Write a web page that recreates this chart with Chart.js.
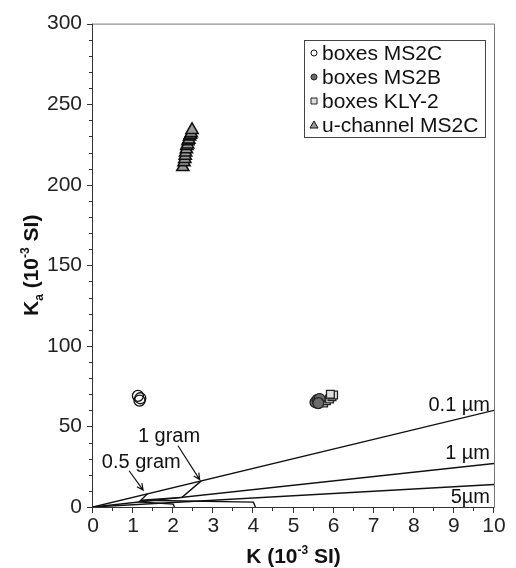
<!DOCTYPE html>
<html>
<head>
<meta charset="utf-8">
<script src="https://cdn.jsdelivr.net/npm/chart.js@4.4.0/dist/chart.umd.min.js"></script>
<style>
html, body { margin: 0; padding: 0; background: #fff; }
</style>
</head>
<body>
<canvas id="myChart" width="516" height="568"></canvas>
<script>
// measured points (K, Ka in 10^-3 SI)
var ms2cK = [1.12, 1.16, 1.18]
var ms2cKa = [69, 66, 67.5]

var ms2bK = [5.55, 5.6, 5.65, 5.62]
var ms2bKa = [65, 66.5, 67, 64.5]

var klyK = [5.75, 5.82, 5.9, 5.96, 6.0, 5.92]
var klyKa = [64.5, 66, 67, 68.5, 69.5, 70]

var uchK = [2.24, 2.27, 2.29, 2.3, 2.31, 2.33, 2.34, 2.36, 2.37, 2.39, 2.41, 2.43, 2.45, 2.47]
var uchKa = [211, 214, 216, 218, 220, 222, 224, 225, 227, 228, 230, 231, 232, 234]

// model lines: grain size
var sizeNames = ['0.1 µm', '1 µm', '5µm']
var sizeK = [[0, 10], [0, 10], [0, 10]]
var sizeKa = [[0, 60], [0, 27], [0, 14]]

// model lines: mass
var g05K = [1.36, 1.15, 2.0, 2.03]
var g05Ka = [8.2, 3.2, 1.8, 0]
var g1K = [2.7, 2.22, 1.2, 4.0, 4.05]
var g1Ka = [16.2, 6.0, 4.2, 3.0, 0]

function pts(xs, ys) {
	return xs.map(function(x, i) { return { x: x, y: ys[i] } })
}

var datasets = []
sizeNames.forEach(function(n, i) {
	datasets.push({ type: 'line', label: n, data: pts(sizeK[i], sizeKa[i]), borderColor: '#111', borderWidth: 1.4, pointRadius: 0, showLine: true, inLegend: false })
})
datasets.push({ type: 'line', label: '0.5 gram', data: pts(g05K, g05Ka), borderColor: '#111', borderWidth: 1.4, pointRadius: 0, showLine: true, inLegend: false })
datasets.push({ type: 'line', label: '1 gram', data: pts(g1K, g1Ka), borderColor: '#111', borderWidth: 1.4, pointRadius: 0, showLine: true, inLegend: false })

datasets.push({ label: 'boxes MS2C', data: pts(ms2cK, ms2cKa), pointStyle: 'circle', pointRadius: 5.5, backgroundColor: 'rgba(255,255,255,0)', borderColor: '#111', borderWidth: 1.3, inLegend: true })
datasets.push({ label: 'boxes MS2B', data: pts(ms2bK, ms2bKa), pointStyle: 'circle', pointRadius: 5.5, backgroundColor: '#6a6a6a', borderColor: '#222', borderWidth: 1.3, inLegend: true })
datasets.push({ label: 'boxes KLY-2', data: pts(klyK, klyKa), pointStyle: 'rect', pointRadius: 5.5, backgroundColor: '#dedede', borderColor: '#222', borderWidth: 1.3, inLegend: true })
datasets.push({ label: 'u-channel MS2C', data: pts(uchK, uchKa), pointStyle: 'triangle', pointRadius: 7, backgroundColor: '#9a9a9a', borderColor: '#111', borderWidth: 1.6, inLegend: true })

// text on the plot, in data units
var notes = [
	{ t: '0.1 µm', x: 9.9, y: 59.5, align: 'right' },
	{ t: '1 µm', x: 9.9, y: 30, align: 'right' },
	{ t: '5µm', x: 9.9, y: 2.5, align: 'right' },
	{ t: '1 gram', x: 1.12, y: 40.5, align: 'left' },
	{ t: '0.5 gram', x: 0.22, y: 24.5, align: 'left' }
]
var arrows = [
	{ x0: 2.12, y0: 38, x1: 2.66, y1: 17 },
	{ x0: 0.9, y0: 22.5, x1: 1.25, y1: 10.5 }
]

var FONT = "'Liberation Sans', Arial, sans-serif"

var extras = {
	id: 'extras',
	afterDraw: function(chart) {
		var c = chart.ctx, xs = chart.scales.x, ys = chart.scales.y, a = chart.chartArea
		c.save()

		// frame
		c.strokeStyle = '#777'
		c.lineWidth = 1
		c.beginPath()
		c.moveTo(a.left, a.top + 0.5); c.lineTo(a.right + 0.5, a.top + 0.5); c.lineTo(a.right + 0.5, a.bottom)
		c.stroke()
		c.strokeStyle = '#333'
		c.beginPath()
		c.moveTo(a.left - 0.5, a.top); c.lineTo(a.left - 0.5, a.bottom + 0.5); c.lineTo(a.right + 0.5, a.bottom + 0.5)
		c.stroke()

		// ticks
		c.beginPath()
		for (var v = 0; v <= 300; v += 10) {
			var py = Math.round(ys.getPixelForValue(v)) + 0.5
			var l = v % 50 == 0 ? 6 : 4
			c.moveTo(a.left - l, py); c.lineTo(a.left, py)
		}
		for (var k = 0; k <= 20; k++) {
			var px = Math.round(xs.getPixelForValue(k / 2)) - 0.5
			var l2 = k % 2 == 0 ? 6 : 4
			c.moveTo(px, a.bottom); c.lineTo(px, a.bottom + l2)
		}
		c.stroke()

		// notes
		c.fillStyle = '#111'
		c.font = '20px ' + FONT
		c.textBaseline = 'alphabetic'
		notes.forEach(function(n) {
			c.textAlign = n.align
			c.fillText(n.t, xs.getPixelForValue(n.x), ys.getPixelForValue(n.y))
		})

		// arrows
		c.strokeStyle = '#111'
		c.lineWidth = 1.2
		arrows.forEach(function(r) {
			var x0 = xs.getPixelForValue(r.x0), y0 = ys.getPixelForValue(r.y0)
			var x1 = xs.getPixelForValue(r.x1), y1 = ys.getPixelForValue(r.y1)
			var ang = Math.atan2(y1 - y0, x1 - x0)
			c.beginPath()
			c.moveTo(x0, y0); c.lineTo(x1, y1)
			c.moveTo(x1 - 7 * Math.cos(ang - 0.45), y1 - 7 * Math.sin(ang - 0.45))
			c.lineTo(x1, y1)
			c.lineTo(x1 - 7 * Math.cos(ang + 0.45), y1 - 7 * Math.sin(ang + 0.45))
			c.stroke()
		})

		// legend
		var lx = 304, ly = 40, lw = 181, lh = 97
		c.fillStyle = '#fff'
		c.fillRect(lx, ly, lw, lh)
		c.strokeStyle = '#444'
		c.lineWidth = 1
		c.strokeRect(lx + 0.5, ly + 0.5, lw, lh)
		c.font = '21px ' + FONT
		c.textAlign = 'left'
		c.textBaseline = 'middle'
		var row = 0
		chart.data.datasets.forEach(function(d) {
			if (!d.inLegend) return
			var cy = ly + 13 + row * 24
			c.lineWidth = 1
			c.fillStyle = d.backgroundColor
			c.strokeStyle = d.borderColor
			c.beginPath()
			if (d.pointStyle == 'circle') {
				c.arc(lx + 10, cy, 3, 0, Math.PI * 2)
			} else if (d.pointStyle == 'rect') {
				c.rect(lx + 7, cy - 3, 6, 6)
			} else {
				c.moveTo(lx + 10, cy - 4); c.lineTo(lx + 14, cy + 3); c.lineTo(lx + 6, cy + 3); c.closePath()
			}
			c.fill(); c.stroke()
			c.fillStyle = '#111'
			c.fillText(d.label, lx + 18, cy + 1)
			row++
		})

		// axis titles
		c.fillStyle = '#111'
		c.textBaseline = 'alphabetic'
		var bx = (a.left + a.right) / 2
		var p1 = 'K (10', p2 = '-3', p3 = ' SI)'
		c.font = 'bold 21px ' + FONT
		var w1 = c.measureText(p1).width, w3 = c.measureText(p3).width
		c.font = 'bold 12px ' + FONT
		var w2 = c.measureText(p2).width
		var sx = bx - (w1 + w2 + w3) / 2, sy = 563
		c.font = 'bold 21px ' + FONT
		c.textAlign = 'left'
		c.fillText(p1, sx, sy)
		c.font = 'bold 12px ' + FONT
		c.fillText(p2, sx + w1, sy - 9)
		c.font = 'bold 21px ' + FONT
		c.fillText(p3, sx + w1 + w2, sy)

		c.translate(38, (a.top + a.bottom) / 2)
		c.rotate(-Math.PI / 2)
		var q = [['K', 21, 0], ['a', 12, 5], [' (10', 21, 0], ['-3', 12, -9], [' SI)', 21, 0]]
		var tw = 0
		q.forEach(function(s) { c.font = 'bold ' + s[1] + 'px ' + FONT; tw += c.measureText(s[0]).width })
		var tx = -tw / 2
		q.forEach(function(s) {
			c.font = 'bold ' + s[1] + 'px ' + FONT
			c.fillText(s[0], tx, s[2])
			tx += c.measureText(s[0]).width
		})
		c.restore()
	}
}

var ctx = document.getElementById('myChart').getContext('2d')
var chart = new Chart(ctx, {
	type: 'scatter',
	data: { datasets: datasets },
	options: {
		responsive: false,
		animation: false,
		layout: { padding: { top: 19, right: 22, left: 0, bottom: 0 } },
		plugins: { legend: { display: false }, tooltip: { enabled: false } },
		scales: {
			x: {
				type: 'linear', min: 0, max: 10,
				ticks: { stepSize: 1, color: '#222', font: { size: 21, family: FONT }, padding: 7, maxRotation: 0 },
				grid: { display: false, drawTicks: false, tickLength: 0 },
				border: { display: false },
				afterFit: function(s) { s.height = 61 }
			},
			y: {
				type: 'linear', min: 0, max: 300,
				ticks: { stepSize: 50, color: '#222', font: { size: 21, family: FONT }, padding: 11 },
				grid: { display: false, drawTicks: false, tickLength: 0 },
				border: { display: false },
				afterFit: function(s) { s.width = 93 }
			}
		}
	},
	plugins: [extras]
})
</script>
</body>
</html>
